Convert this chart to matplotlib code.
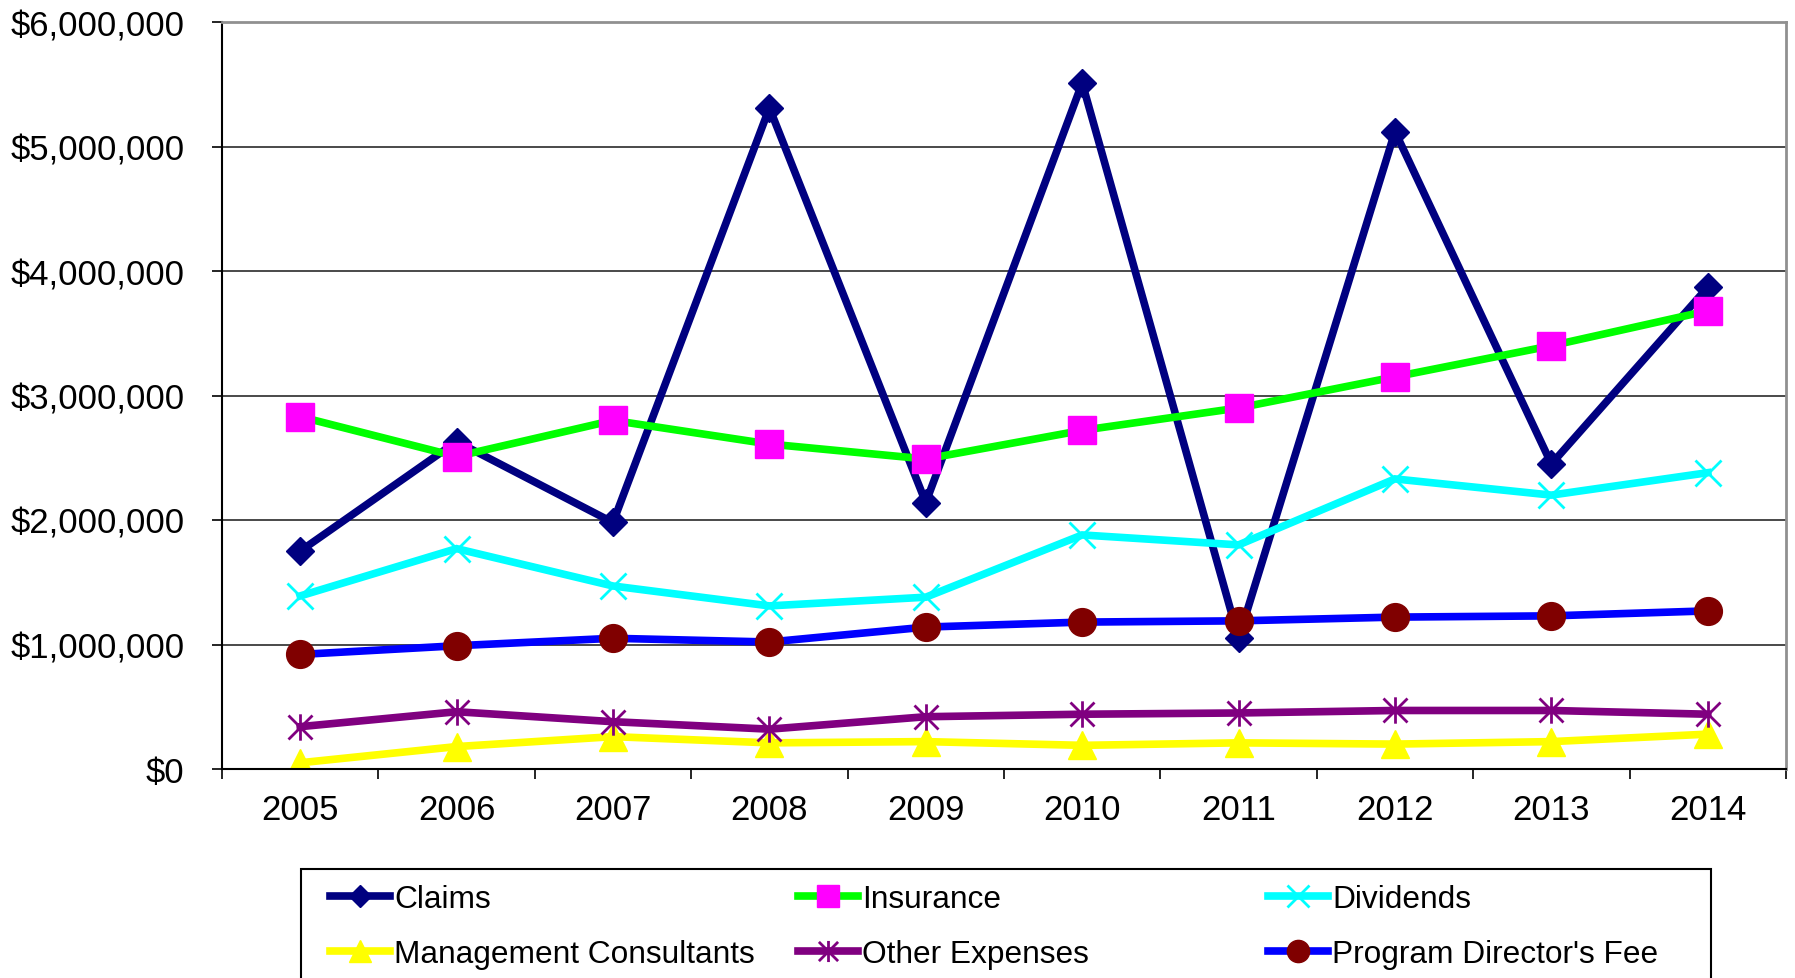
import matplotlib.pyplot as plt
from matplotlib.path import Path
from matplotlib.patches import Rectangle
from matplotlib.ticker import FuncFormatter

plt.rcParams['font.family'] = ['Liberation Sans', 'DejaVu Sans']

years = ['2005', '2006', '2007', '2008', '2009', '2010', '2011', '2012', '2013', '2014']

claims = [1750000, 2630000, 1980000, 5310000, 2140000, 5510000, 1050000, 5120000, 2450000, 3870000]
insurance = [2830000, 2510000, 2800000, 2610000, 2490000, 2720000, 2900000, 3150000, 3400000, 3680000]
dividends = [1390000, 1770000, 1470000, 1310000, 1380000, 1880000, 1800000, 2330000, 2200000, 2380000]
mgmt_consultants = [50000, 180000, 260000, 210000, 220000, 190000, 210000, 200000, 220000, 280000]
other_expenses = [340000, 460000, 380000, 320000, 420000, 440000, 450000, 470000, 470000, 440000]
director_fee = [920000, 990000, 1050000, 1020000, 1140000, 1180000, 1190000, 1220000, 1230000, 1270000]

# Excel-style asterisk: an x with a vertical bar through it
asterisk = Path([(-1, -1), (1, 1), (-1, 1), (1, -1), (0, -1.1), (0, 1.1)],
                [Path.MOVETO, Path.LINETO] * 3)

series = [
    ('Claims', claims, '#000080', 'D', '#000080', 14),
    ('Insurance', insurance, '#00FF00', 's', '#FF00FF', 20),
    ('Dividends', dividends, '#00FFFF', 'x', '#00FFFF', 19),
    ('Management Consultants', mgmt_consultants, '#FFFF00', '^', '#FFFF00', 20),
    ('Other Expenses', other_expenses, '#800080', asterisk, '#800080', 19),
    ("Program Director's Fee", director_fee, '#0000FF', 'o', '#800000', 20),
]

W, H = 1795, 979
fig = plt.figure(figsize=(W / 100, H / 100), dpi=100)
ax = fig.add_axes([222 / W, 1 - 770 / H, (1786 - 222) / W, (770 - 23) / H])

x = list(range(len(years)))
handles = []
for name, vals, lc, mk, mc, ms in series:
    thin = mk in ('x',) or mk is asterisk
    h, = ax.plot(x, vals, color=lc, lw=5.5, marker=mk, markersize=ms,
                 markerfacecolor=mc, markeredgecolor=mc,
                 markeredgewidth=2.0 if thin else 1.0,
                 solid_joinstyle='miter', label=name)
    handles.append(h)

ax.set_xlim(-0.5, len(years) - 0.5)
ax.set_ylim(0, 6000000)
ax.set_yticks(range(0, 6000001, 1000000))
ax.yaxis.set_major_formatter(FuncFormatter(lambda v, p: f'${v:,.0f}'))
ax.set_xticks(x)
ax.set_xticklabels(years)
ax.set_xticks([i - 0.5 for i in range(len(years) + 1)], minor=True)

ax.tick_params(axis='y', length=7, width=1.2, direction='out', pad=20,
               labelsize=25, color='black')
ax.tick_params(axis='x', which='major', length=0, pad=17, labelsize=25)
ax.tick_params(axis='x', which='minor', length=7, width=1.2, direction='out',
               color='black')

ax.grid(axis='y', color='#3a3a3a', lw=1.3)
ax.set_axisbelow(True)
for side in ('left', 'bottom'):
    ax.spines[side].set_color('black')
    ax.spines[side].set_linewidth(1.5)
for side in ('top', 'right'):
    ax.spines[side].set_color('#909090')
    ax.spines[side].set_linewidth(2)

# legend box, three columns of two rows each
fig.add_artist(Rectangle((301 / W, -0.05), (1711 - 301) / W, 0.05 + (979 - 870) / H,
                         transform=fig.transFigure, fill=False,
                         edgecolor='black', lw=1.5))
col_x = [330, 798, 1268]
for c in range(3):
    hs = [handles[c], handles[c + 3]]
    fig.legend(hs, [h.get_label() for h in hs], loc='upper left',
               bbox_to_anchor=(col_x[c] / W, 1 - 885 / H), frameon=False,
               fontsize=22.8, handlelength=1.9, handletextpad=0.12,
               borderpad=0, borderaxespad=0, labelspacing=0.78,
               markerscale=0.8)

fig.savefig('out.png', dpi=100)
